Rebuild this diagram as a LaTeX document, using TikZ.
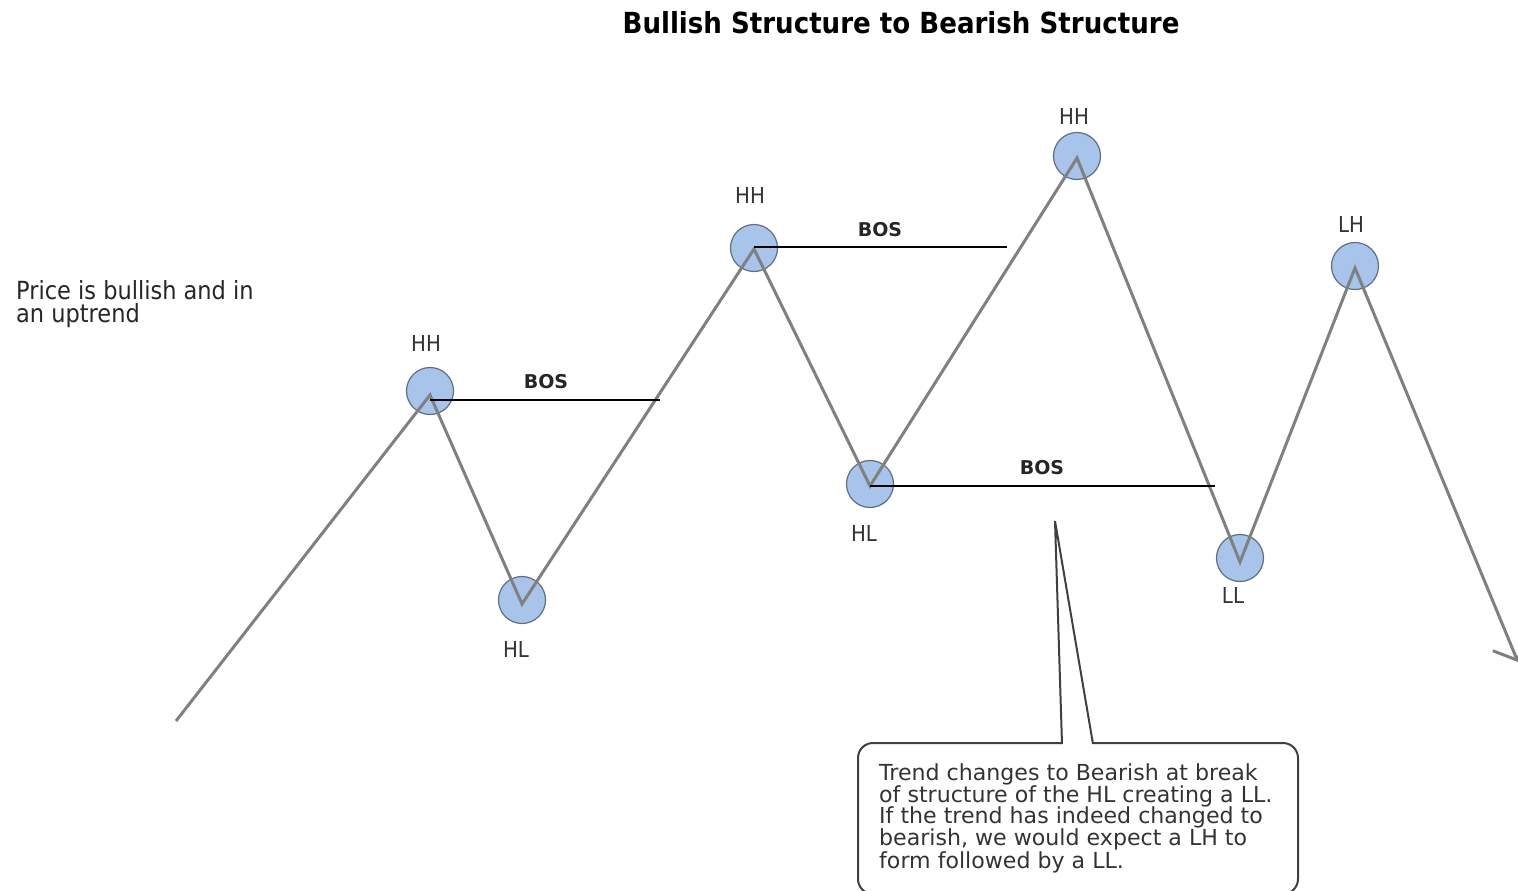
\documentclass[tikz,border=0pt]{standalone}
\usepackage{fontspec}
\setmainfont{DejaVu Sans}
\newfontfamily\condfont{DejaVu Sans Condensed}
\usetikzlibrary{arrows.meta}
\definecolor{swing}{HTML}{808080}
\definecolor{pivotfill}{HTML}{A9C4EB}
\definecolor{pivotline}{HTML}{5F6E80}
\definecolor{labeltext}{HTML}{333333}
\begin{document}
\begin{tikzpicture}[x=1pt,y=-1pt,
  pivot/.style={circle,fill=pivotfill,draw=pivotline,line width=1.2pt,minimum size=47pt,inner sep=0pt},
  pricepath/.style={draw=swing,line width=3pt,line join=miter},
  bosline/.style={draw=black,line width=1.6pt},
  swinglabel/.style={font=\condfont\fontsize{22}{24}\selectfont,text=labeltext,inner sep=0pt},
  boslabel/.style={font=\bfseries\fontsize{19}{21}\selectfont,text=black!85,inner sep=0pt},
  callout/.style={draw=black!75,line width=2pt},
  notetext/.style={font=\fontsize{22.1}{22}\selectfont,text=labeltext,align=left,inner sep=0pt,anchor=north west}]
\useasboundingbox (0,0) rectangle (1518,891);

% title
\node[font=\condfont\bfseries\fontsize{29}{32}\selectfont,inner sep=0pt] (title) at (901,23) {Bullish Structure to Bearish Structure};

% side remark
\node[font=\condfont\fontsize{25}{23.5}\selectfont,text=black!85,align=left,inner sep=0pt,anchor=north west] (remark) at (16,280) {Price is bullish and in\\an uptrend};

% swing points
\node[pivot] (c1) at (430,391) {};
\node[pivot] (c2) at (522,600) {};
\node[pivot] (c3) at (754,248) {};
\node[pivot] (c4) at (870,484) {};
\node[pivot] (c5) at (1077,156) {};
\node[pivot] (c6) at (1240,558) {};
\node[pivot] (c7) at (1355,266) {};

\coordinate (v1) at (430,395);
\coordinate (v2) at (522,604);
\coordinate (v3) at (754,249);
\coordinate (v4) at (870,486);
\coordinate (v5) at (1077,158);
\coordinate (v6) at (1240,562);
\coordinate (v7) at (1355,268);
\coordinate (start) at (176,721);
\coordinate (finish) at (1518,662);

% price path
\draw[pricepath,-{Straight Barb[length=18pt,width=38pt,line width=3pt]}]
  (start) -- (v1) -- (v2) -- (v3) -- (v4) -- (v5) -- (v6) -- (v7) -- (finish);

% breaks of structure
\coordinate (b1) at (660,400);
\coordinate (b2) at (1007,247);
\coordinate (b3) at (1215,486);
\draw[bosline] (430,400) -- (b1);
\draw[bosline] (754,247) -- (b2);
\draw[bosline] (870,486) -- (b3);
\node[boslabel] (bos1) at (546,382) {BOS};
\node[boslabel] (bos2) at (880,230) {BOS};
\node[boslabel] (bos3) at (1042,468) {BOS};

% swing labels
\node[swinglabel] (l1) at (426,343) {HH};
\node[swinglabel] (l2) at (516,649) {HL};
\node[swinglabel] (l3) at (750,195) {HH};
\node[swinglabel] (l4) at (864,533) {HL};
\node[swinglabel] (l5) at (1074,116) {HH};
\node[swinglabel] (l6) at (1233,595) {LL};
\node[swinglabel] (l7) at (1351,224) {LH};

% callout
\coordinate (tip) at (1055,521);
\draw[callout,rounded corners=15pt] (1093,743) -- (1298,743) -- (1298,894) -- (858,894) -- (858,743) -- (1062,743);
\draw[callout,line join=miter] (1062,744) -- (tip) -- (1093,744);
\node[notetext] (note) at (879,763) {Trend changes to Bearish at break\\of structure of the HL creating a LL.\\If the trend has indeed changed to\\bearish, we would expect a LH to\\form followed by a LL.};
\end{tikzpicture}
\end{document}
